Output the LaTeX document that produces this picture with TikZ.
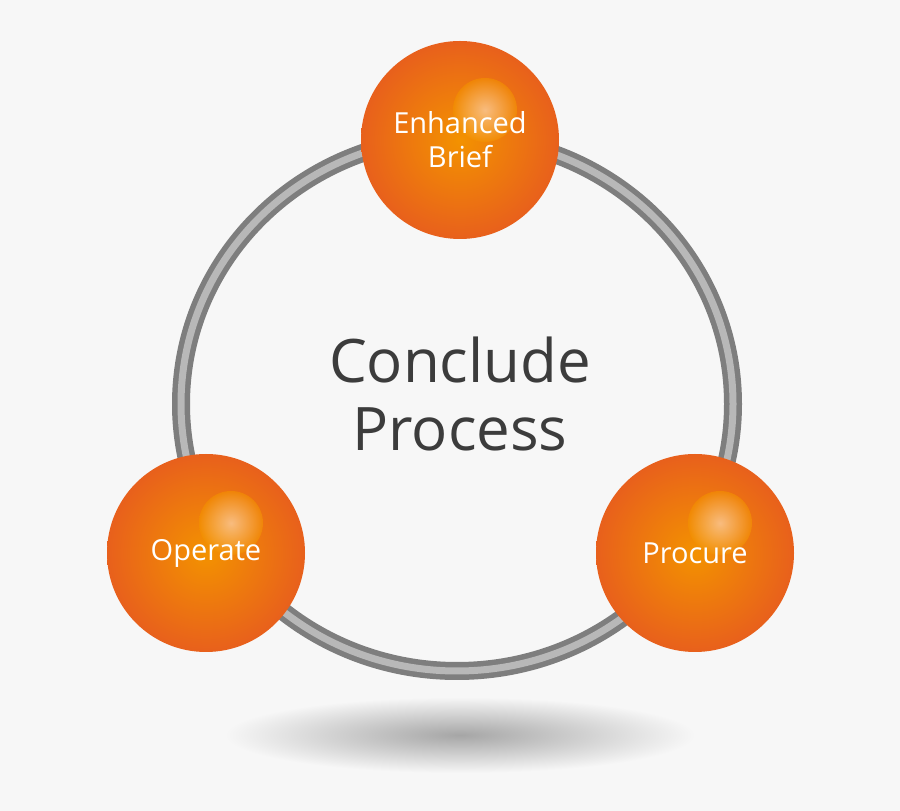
\documentclass[tikz,border=0pt]{standalone}
\usepackage{fontspec}
\setmainfont{Open Sans}
\usetikzlibrary{shadings}
\definecolor{bg}{HTML}{F7F7F7}
\definecolor{ringc}{HTML}{7E7E7E}
\definecolor{ringh}{HTML}{B8B8B8}
\definecolor{txt}{HTML}{3C3C3C}
\definecolor{orin}{HTML}{F39200}
\definecolor{orout}{HTML}{E8601C}
\tikzset{
  ball/.style={circle,minimum size=198pt,inner sep=0pt,
    inner color=orin,outer color=orout},
  lbl/.style={text=white,font=\fontsize{29}{34}\selectfont,align=center},
}
\begin{document}
\begin{tikzpicture}[x=1pt,y=1pt]
\fill[bg] (0,0) rectangle (900,811);
\useasboundingbox (0,0) rectangle (900,811);
\shade[inner color=black!35,outer color=bg] (460,76) ellipse (235 and 38);
\draw[line width=18pt,ringc] (457,407) ellipse (276 and 267);
\draw[line width=7pt,ringh] (457,407) ellipse (276 and 267);
\node[font=\fontsize{60}{68}\selectfont,text=txt,align=center] (c) at (460,417) {Conclude\\Process};
\node[ball] (a) at (460,671) {};
\node[ball] (b) at (206,258) {};
\node[ball] (d) at (695,258) {};
\foreach \n in {a,b,d}{
  \shade[inner color=white!80!orange,outer color=orin,opacity=0.6] ([xshift=25pt,yshift=30pt]\n.center) circle (32pt);
}
\node[lbl] (la) at (a) {Enhanced\\Brief};
\node[lbl] (lb) at (b) {Operate};
\node[lbl] (ld) at (d) {Procure};
\end{tikzpicture}
\end{document}
